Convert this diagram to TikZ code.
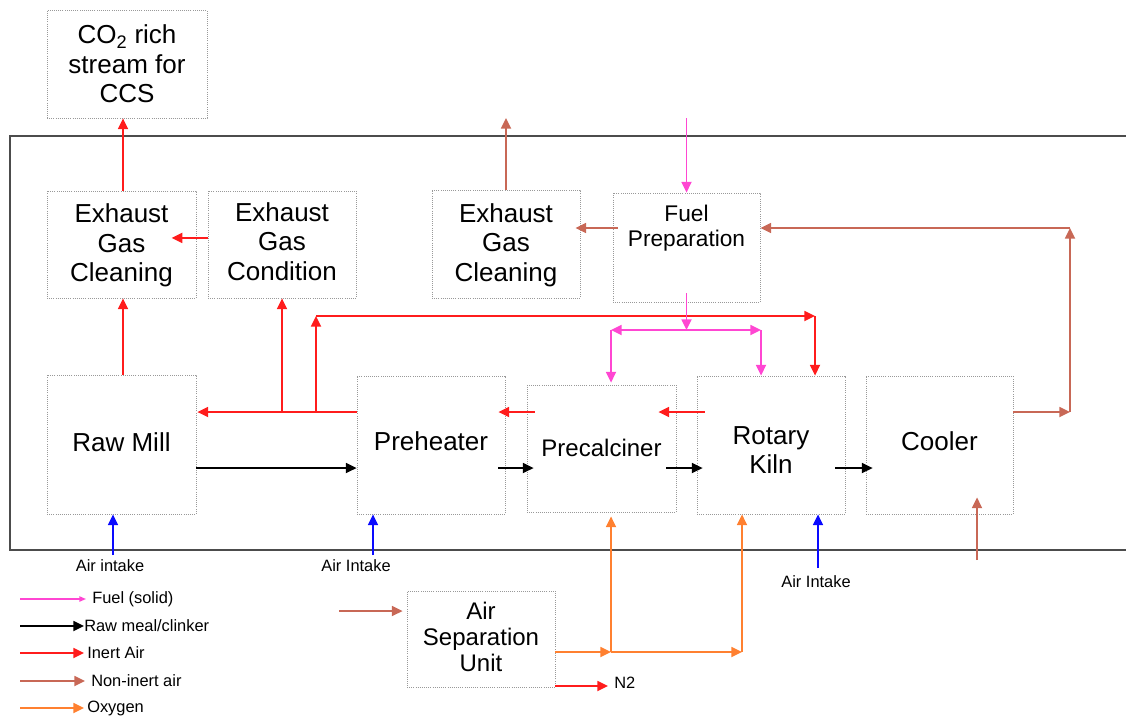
\documentclass[tikz,border=0pt]{standalone}
\usepackage{fontspec}
\setmainfont{Liberation Sans}
\usetikzlibrary{arrows.meta,calc}
\definecolor{cred}{RGB}{255,28,28}
\definecolor{cpink}{RGB}{255,70,210}
\definecolor{cbrown}{RGB}{200,104,86}
\definecolor{corange}{RGB}{255,128,48}
\definecolor{cblue}{RGB}{10,10,255}
\newcommand{\bigf}{\fontsize{19.5}{22}\selectfont}
\newcommand{\midf}{\fontsize{18}{19.5}\selectfont}
\newcommand{\fuelf}{\fontsize{17}{19}\selectfont}
\newcommand{\smallf}{\fontsize{12.3}{14}\selectfont}
% \bx[text opts]{x1}{y1}{x2}{y2}{name}{text}{text offset}
\newcommand{\bx}[8][]{%
  \node[box,minimum width={(#4-#2)*0.75pt},minimum height={(#5-#3)*0.75pt}] (#6) at ({(#2+#4)/2},{(#3+#5)/2}) {};
  \node[boxtext,#1] (#6t) at ($(#6.center)+(0,#8)$) {#7};}
\tikzset{
  box/.style={draw=black!40, densely dotted, line width=0.6pt, inner sep=0pt},
  boxtext/.style={inner sep=0pt, align=center, font=\bigf},
  ar/.style={line width=1.3pt, -{Triangle[length=8pt,width=7.5pt]}},
  inert/.style={ar, draw=cred},
  fuelc/.style={ar, draw=cpink},
  nonin/.style={ar, draw=cbrown},
  oxy/.style={ar, draw=corange},
  air/.style={ar, line width=1.2pt, draw=cblue},
  raw/.style={ar, draw=black},
  lab/.style={font=\smallf, inner sep=0pt},
  frame/.style={draw=black!70, line width=1.2pt},
}
\begin{document}
\begin{tikzpicture}[x=0.75pt,y=-0.75pt]
\useasboundingbox (0,0) rectangle (1126,717);
% frame
\draw[frame] (1126,136) -- (10,136) -- (10,550) -- (1126,550);
% boxes
\bx{47}{10}{207}{118}{co2}{CO\textsubscript{2} rich\\stream for\\CCS}{0}
\bx{47}{191}{196}{298}{egc1}{Exhaust\\Gas\\Cleaning}{1}
\bx{208}{191}{356}{298}{egcond}{Exhaust\\Gas\\Condition}{-3}
\bx{432}{190}{580}{298}{egc2}{Exhaust\\Gas\\Cleaning}{1}
\bx{613}{193}{760}{302}{fuel}{}{0}
\node[font=\fuelf, align=center, anchor=north, inner sep=0pt] (fueltxt) at ($(fuel.north)+(0,12)$) {Fuel\\Preparation};
\bx{47}{375}{196}{514}{rm}{Raw Mill}{-2}
\bx{357}{376}{505}{514}{ph}{Preheater}{-4}
\bx[font=\midf]{527}{385}{676}{512}{pc}{Precalciner}{-1}
\bx{697}{376}{845}{514}{rk}{Rotary\\Kiln}{5}
\bx{866}{376}{1013}{514}{cool}{Cooler}{-4}
\bx[font=\midf]{407}{591}{555}{687}{asu}{Air\\Separation\\Unit}{-2}
% helper levels
\coordinate (yR) at (0,412);
\coordinate (yB) at (0,468);
\coordinate (yP) at (0,330);
\coordinate (ytop) at (0,118);
\coordinate (tl) at (316,316);
\coordinate (tr) at (815,316);
\coordinate (pl) at (611,330);
\coordinate (pr) at (761,330);
\coordinate (cr) at (1070,412);
\coordinate (ct) at (1070,228);
\coordinate (cb) at (977,560);
\coordinate (ai) at (339,611);
\coordinate (a1) at (113,555);
\coordinate (a2) at (373,555);
\coordinate (a3) at (818,568);
\coordinate (o1) at (611,652);
\coordinate (o2) at (742,652);
\coordinate (n2) at (608,686);
% inert air (red)
\draw[inert] ($(egc1.north)+(1.5,0)$) -- ($(egc1.north |- co2.south)+(1.5,0)$);
\draw[inert] ([yshift=4.9pt]egcond.west) -- ++(-36,0);
\draw[inert] ($(rm.north)+(1.5,0)$) -- ($(egc1.south)+(1.5,0)$);
\draw[inert] (ph.west |- yR) -- ($(rm.east |- yR)+(1,0)$);
\draw[inert] (egcond.south |- yR) -- (egcond.south);
\draw[inert] (tl |- yR) -- (tl);
\draw[inert] (tl) -- (tr);
\draw[inert] (tr) -- (tr |- rk.north);
\draw[inert] ($(rk.west |- yR)+(8,0)$) -- ($(pc.east |- yR)+(-18,0)$);
\draw[inert] ($(pc.west |- yR)+(8,0)$) -- ($(ph.east |- yR)+(-7,0)$);
\draw[inert] (asu.east |- n2) -- (n2);
% raw meal (black)
\draw[raw] (rm.east |- yB) -- (ph.west |- yB);
\draw[raw] ($(ph.east |- yB)+(-7,0)$) -- ($(pc.west |- yB)+(7,0)$);
\draw[raw] ($(pc.east |- yB)+(-10,0)$) -- ($(rk.west |- yB)+(6,0)$);
\draw[raw] ($(rk.east |- yB)+(-10,0)$) -- ($(cool.west |- yB)+(7,0)$);
% fuel (pink)
\draw[fuelc] (fuel.north |- ytop) -- (fuel.north);
\draw[fuelc] ($(fuel.south)+(0,-9)$) -- (fuel.south |- yP);
\draw[fuelc, {Triangle[length=8pt,width=7.5pt]}-{Triangle[length=8pt,width=7.5pt]}] (pl) -- (pr);
\draw[fuelc] (pl) -- ($(pl |- pc.north)+(0,-2)$);
\draw[fuelc] (pr) -- (pr |- rk.north);
% non-inert air (brown)
\draw[nonin] (egc2.north) -- (egc2.north |- ytop);
\draw[nonin] (cool.east |- cr) -- (cr);
\draw[nonin] (cr) -- (ct);
\draw[nonin] (ct) -- (fuel.east |- ct);
\draw[nonin] ($(fuel.west |- ct)+(5,0)$) -- ($(egc2.east |- ct)+(-5,0)$);
\draw[nonin] (cb) -- ($(cb |- cool.south)+(0,-17)$);
\draw[nonin] (ai) -- ($(asu.west |- ai)+(-4,0)$);
% air intake (blue)
\draw[air] (a1) -- (a1 |- rm.south);
\draw[air] (a2) -- (a2 |- ph.south);
\draw[air] (a3) -- (a3 |- rk.south);
\node[lab] (l1) at (110,566) {Air intake};
\node[lab] (l2) at (356,566) {Air Intake};
\node[lab] (l3) at (816,582) {Air Intake};
% oxygen (orange)
\draw[oxy] (asu.east |- o1) -- (o1);
\draw[oxy] (o1) -- ($(o1 |- pc.south)+(0,4)$);
\draw[oxy] (o1) -- (o2);
\draw[oxy] (o2) -- (o2 |- rk.south);
\node[lab, anchor=west] (n2t) at (614,683) {N2};
% legend
\node[lab, anchor=west] (lg1) at (92,599) {Fuel (solid)};
\node[lab, anchor=west] (lg2) at (84,626) {Raw meal/clinker};
\node[lab, anchor=west] (lg3) at (87,653) {Inert Air};
\node[lab, anchor=west] (lg4) at (91,681) {Non-inert air};
\node[lab, anchor=west] (lg5) at (87,708) {Oxygen};
\coordinate (g1) at (20,599);
\coordinate (g2) at (20,626);
\coordinate (g3) at (20,653);
\coordinate (g4) at (20,681);
\coordinate (g5) at (20,708);
\draw[fuelc, line width=1pt, -{Triangle[length=5pt,width=4pt]}] (g1) -- ($(lg1.west |- g1)+(-6,0)$);
\draw[raw] (g2) -- ($(lg2.west |- g2)+(0,0)$);
\draw[inert] (g3) -- ($(lg3.west |- g3)+(-3,0)$);
\draw[nonin] (g4) -- ($(lg4.west |- g4)+(-6,0)$);
\draw[oxy] (g5) -- ($(lg5.west |- g5)+(-3,0)$);
\end{tikzpicture}
\end{document}
